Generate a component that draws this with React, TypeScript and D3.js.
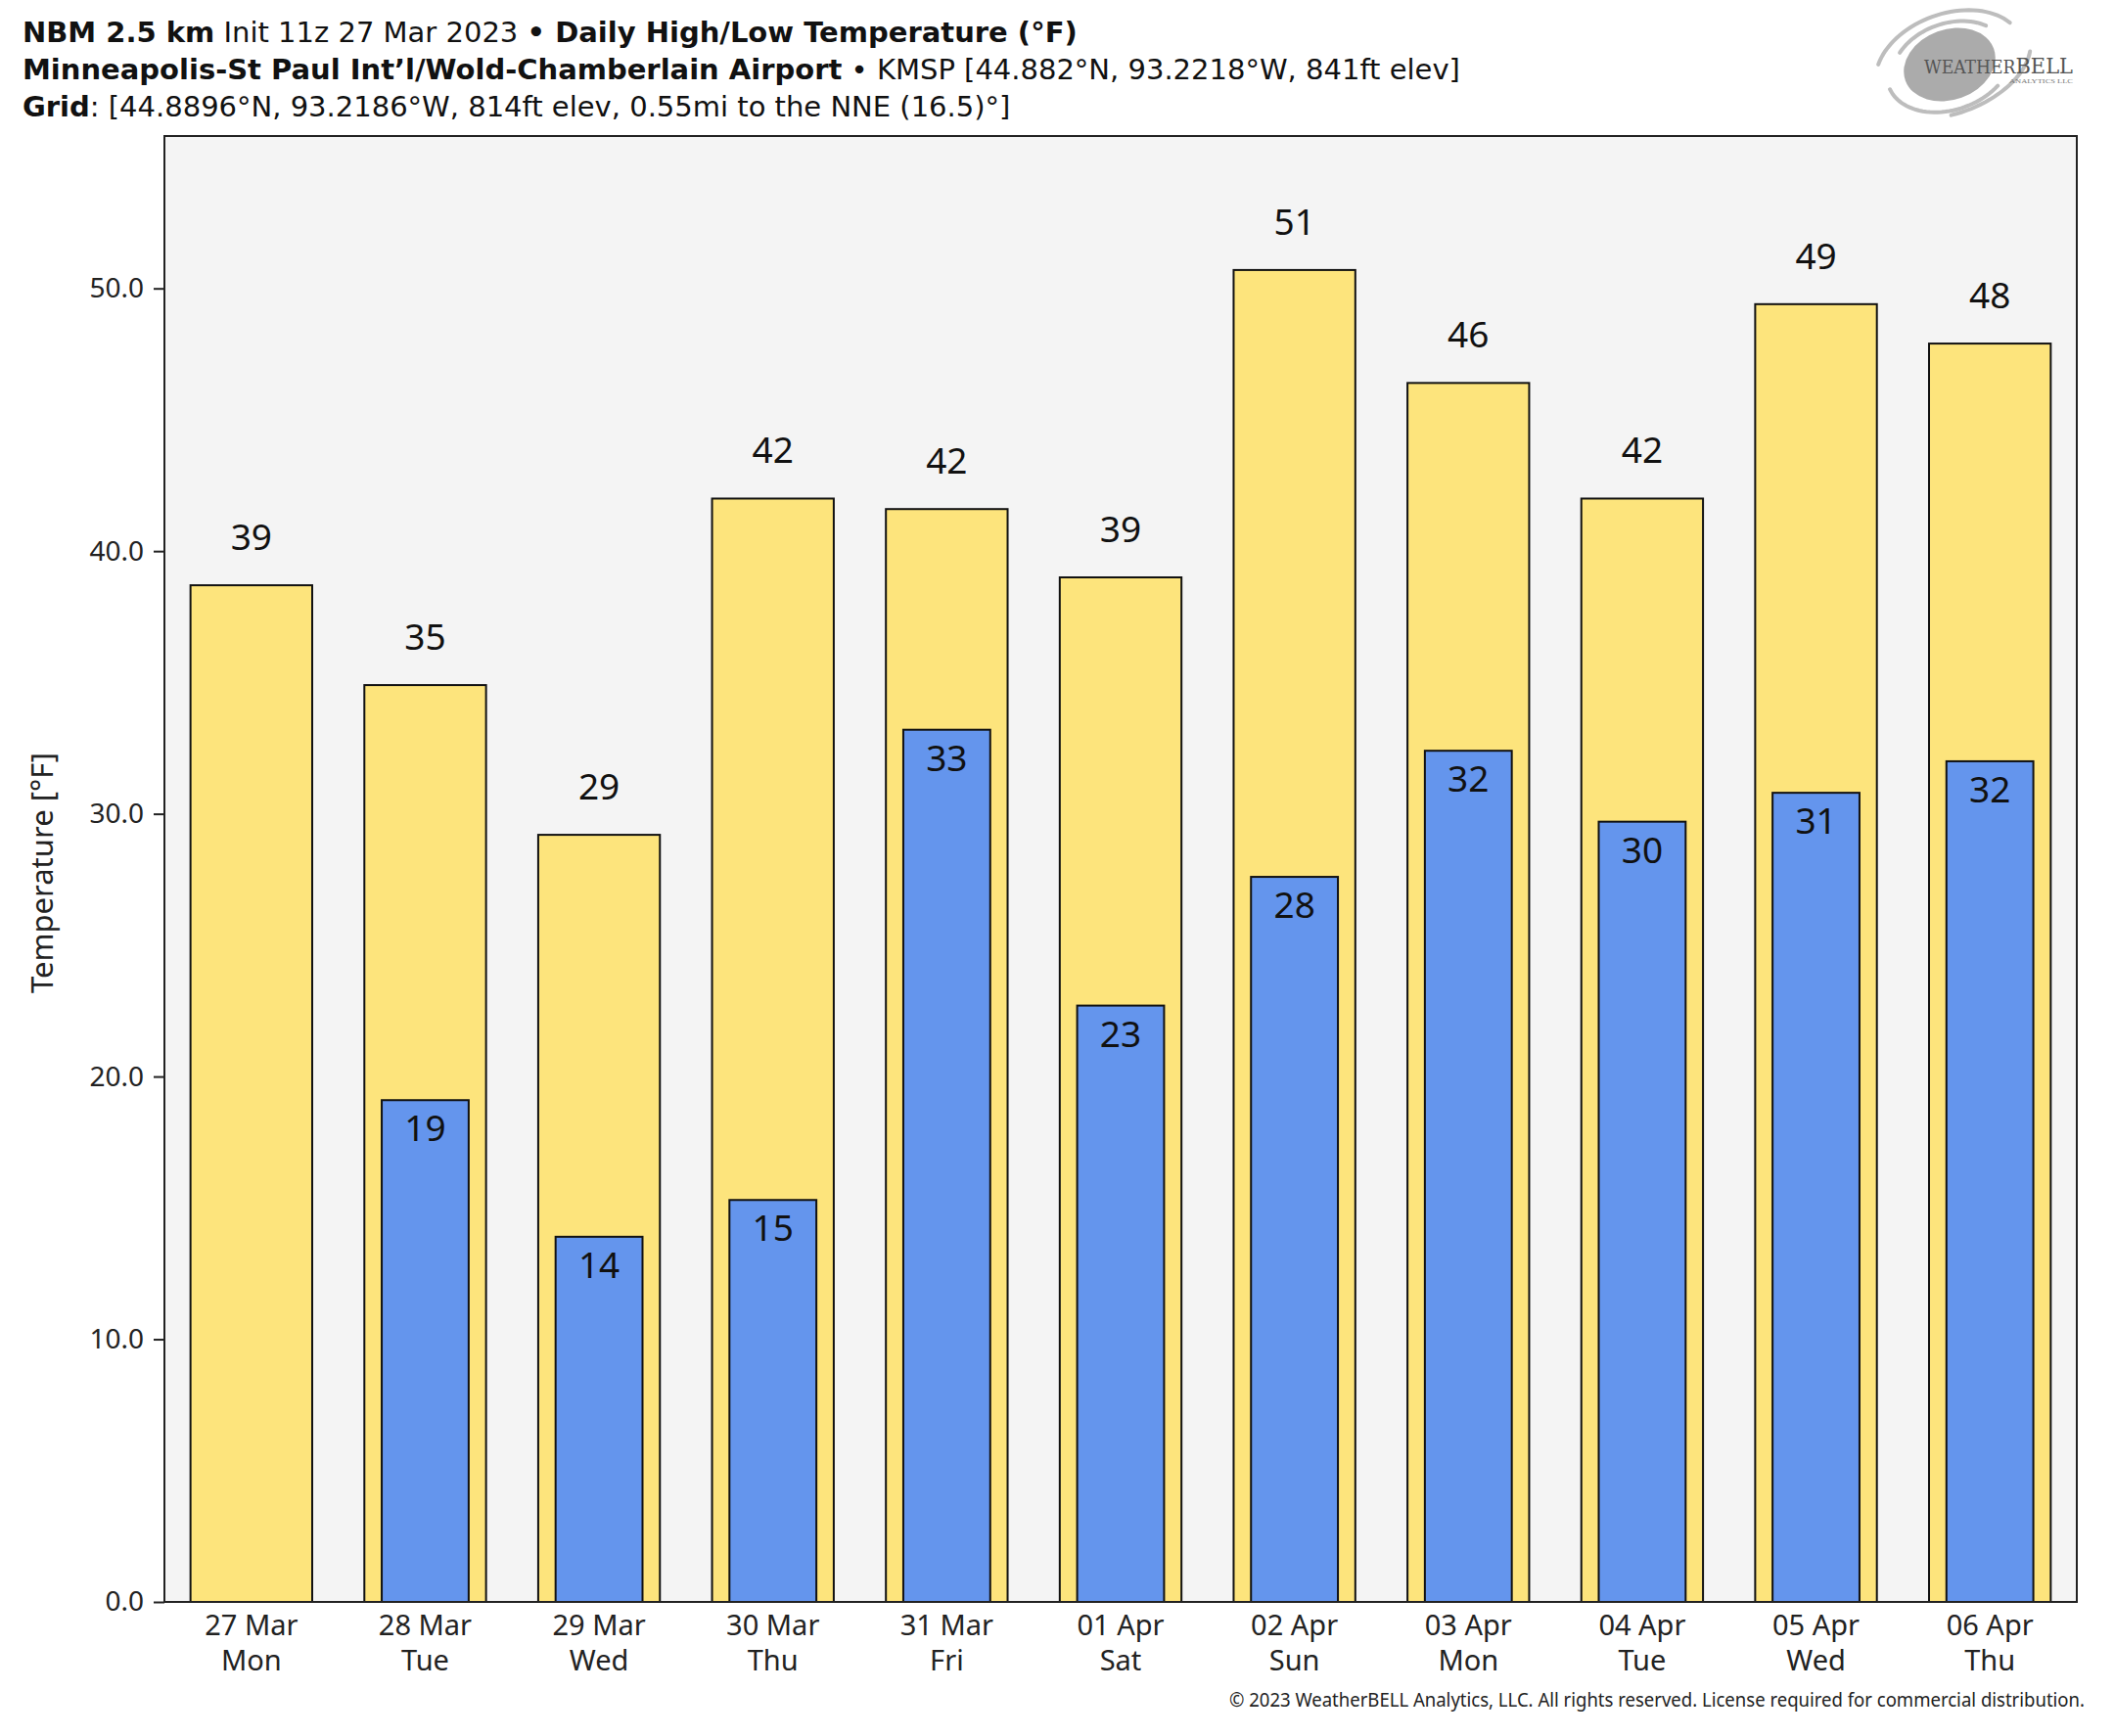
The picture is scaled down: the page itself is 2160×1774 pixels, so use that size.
import * as d3 from 'd3';
import React, { useEffect, useRef } from 'react';

const dates = ['27 Mar', '28 Mar', '29 Mar', '30 Mar', '31 Mar', '01 Apr', '02 Apr', '03 Apr', '04 Apr', '05 Apr', '06 Apr'];
const weekdays = ['Mon', 'Tue', 'Wed', 'Thu', 'Fri', 'Sat', 'Sun', 'Mon', 'Tue', 'Wed', 'Thu'];
const highs = [38.7, 34.9, 29.2, 42.0, 41.6, 39.0, 50.7, 46.4, 42.0, 49.4, 47.9];
const lows: (number | null)[] = [null, 19.1, 13.9, 15.3, 33.2, 22.7, 27.6, 32.4, 29.7, 30.8, 32.0];
const yTicks = [0, 10, 20, 30, 40, 50];

const W = 2160;
const H = 1774;
const plot = { left: 168, top: 139, right: 2122, bottom: 1637 };
const font = '"Noto Sans", "Open Sans", sans-serif';
const titleFont = '"DejaVu Sans", "Noto Sans", sans-serif';

export default function App() {
    const ref = useRef<SVGSVGElement>(null);

    useEffect(() => {
        const svg = d3.select(ref.current);
        svg.selectAll('*').remove();

        const x = d3.scaleBand().domain(dates).range([plot.left, plot.right]).padding(0);
        const y = d3.scaleLinear().domain([0, 55.8]).range([plot.bottom, plot.top]);
        const bw = x.bandwidth();
        const cx = (i: number) => x(dates[i])! + bw / 2;

        svg.append('rect')
            .attr('width', W)
            .attr('height', H)
            .attr('fill', '#ffffff');

        // plot background
        svg.append('rect')
            .attr('x', plot.left)
            .attr('y', plot.top)
            .attr('width', plot.right - plot.left)
            .attr('height', plot.bottom - plot.top)
            .attr('fill', '#f4f4f4');

        const g = svg.append('g');

        // high bars
        g.selectAll('.high')
            .data(highs)
            .join('rect')
            .classed('high', true)
            .attr('x', (d, i) => cx(i) - bw * 0.35)
            .attr('width', bw * 0.7)
            .attr('y', (d) => y(d))
            .attr('height', (d) => y(0) - y(d))
            .attr('fill', '#fde47c')
            .attr('stroke', '#111')
            .attr('stroke-width', 2);

        const lowData = lows.map((v, i) => ({ v, i })).filter((d) => d.v !== null) as { v: number; i: number }[];

        g.selectAll('.low')
            .data(lowData)
            .join('rect')
            .classed('low', true)
            .attr('x', (d) => cx(d.i) - bw * 0.25)
            .attr('width', bw * 0.5)
            .attr('y', (d) => y(d.v))
            .attr('height', (d) => y(0) - y(d.v))
            .attr('fill', '#6495ed')
            .attr('stroke', '#111')
            .attr('stroke-width', 2);

        g.selectAll('.high-label')
            .data(highs)
            .join('text')
            .classed('high-label', true)
            .attr('x', (d, i) => cx(i))
            .attr('y', (d) => y(d) - 36)
            .attr('text-anchor', 'middle')
            .attr('font-family', font)
            .attr('font-size', 37)
            .attr('fill', '#111')
            .text((d) => Math.round(d));

        g.selectAll('.low-label')
            .data(lowData)
            .join('text')
            .classed('low-label', true)
            .attr('x', (d) => cx(d.i))
            .attr('y', (d) => y(d.v) + 42)
            .attr('text-anchor', 'middle')
            .attr('font-family', font)
            .attr('font-size', 37)
            .attr('fill', '#111')
            .text((d) => Math.round(d.v));

        // frame
        svg.append('rect')
            .attr('x', plot.left)
            .attr('y', plot.top)
            .attr('width', plot.right - plot.left)
            .attr('height', plot.bottom - plot.top)
            .attr('fill', 'none')
            .attr('stroke', '#222')
            .attr('stroke-width', 2);

        // y axis
        const yAxis = d3
            .axisLeft(y)
            .tickValues(yTicks)
            .tickSize(11)
            .tickPadding(10)
            .tickFormat((d) => d3.format('.1f')(d as number));
        const ya = svg.append('g').attr('transform', `translate(${plot.left},0)`).call(yAxis);
        ya.select('.domain').remove();
        ya.selectAll('line').attr('stroke', '#222').attr('stroke-width', 2);
        ya.selectAll('text')
            .attr('font-family', font)
            .attr('font-size', 28)
            .attr('fill', '#222');

        // x axis
        const xAxis = d3.axisBottom(x).tickSize(0).tickFormat(() => '');
        const xa = svg.append('g').attr('transform', `translate(0,${plot.bottom})`).call(xAxis);
        xa.select('.domain').remove();
        xa.selectAll('.tick').each(function (d, i) {
            const t = d3
                .select(this)
                .append('text')
                .attr('text-anchor', 'middle')
                .attr('font-family', font)
                .attr('font-size', 29)
                .attr('fill', '#222');
            t.append('tspan').attr('x', 0).attr('y', 34).text(dates[i]);
            t.append('tspan').attr('x', 0).attr('y', 70).text(weekdays[i]);
        });

        svg.append('text')
            .attr('transform', `translate(54,${(plot.top + plot.bottom) / 2 + 4}) rotate(-90)`)
            .attr('text-anchor', 'middle')
            .attr('font-family', font)
            .attr('font-size', 31)
            .attr('fill', '#222')
            .text('Temperature [°F]');

        // title
        const titleLines = [
            [
                { t: 'NBM 2.5 km', b: true },
                { t: ' Init 11z 27 Mar 2023 ', b: false },
                { t: '• Daily High/Low Temperature (°F)', b: true },
            ],
            [
                { t: 'Minneapolis-St Paul Int’l/Wold-Chamberlain Airport', b: true },
                { t: ' • KMSP [44.882°N, 93.2218°W, 841ft elev]', b: false },
            ],
            [
                { t: 'Grid', b: true },
                { t: ': [44.8896°N, 93.2186°W, 814ft elev, 0.55mi to the NNE (16.5)°]', b: false },
            ],
        ];
        titleLines.forEach((parts, li) => {
            const t = svg
                .append('text')
                .attr('x', 23)
                .attr('y', 43 + li * 38)
                .attr('font-family', titleFont)
                .attr('font-size', 29)
                .attr('fill', '#111')
                .attr('xml:space', 'preserve');
            parts.forEach((p) => {
                t.append('tspan').attr('font-weight', p.b ? 700 : 400).text(p.t);
            });
        });

        // footer, squeezed horizontally to the reference's narrow look
        const foot = svg.append('g');
        const ft = foot
            .append('text')
            .attr('x', 0)
            .attr('y', 0)
            .attr('text-anchor', 'end')
            .attr('font-family', font)
            .attr('font-size', 20)
            .attr('fill', '#222')
            .text('© 2023 WeatherBELL Analytics, LLC. All rights reserved. License required for commercial distribution.');
        const len = (ft.node() as SVGTextElement).getComputedTextLength() || 875;
        foot.attr('transform', `translate(2130,1744) scale(${875 / len},1)`);

        // logo
        const logo = svg.append('g').attr('transform', 'translate(1992,66) rotate(-20)');
        logo.append('ellipse').attr('rx', 48).attr('ry', 36).attr('fill', '#ababab');
        [
            [66, 46, 0.15, 0.5],
            [78, 52, 0.58, 0.95],
            [60, 42, 0.62, 0.9],
            [86, 50, 0.05, 0.28],
        ].forEach(([rx, ry, a0, a1]) => {
            const pts = d3.range(a0, a1, 0.01).map((a) => [Math.cos(a * 2 * Math.PI) * rx, Math.sin(a * 2 * Math.PI) * ry] as [number, number]);
            logo.append('path')
                .attr('d', d3.line()(pts))
                .attr('fill', 'none')
                .attr('stroke', '#bdbdbd')
                .attr('stroke-width', 4)
                .attr('stroke-linecap', 'round');
        });
        const lt = svg
            .append('text')
            .attr('x', 1966)
            .attr('y', 75)
            .attr('font-family', '"DejaVu Serif", "Liberation Serif", serif')
            .attr('fill', '#555')
            .attr('textLength', 152)
            .attr('lengthAdjust', 'spacingAndGlyphs');
        lt.append('tspan').attr('font-size', 18).text('WEATHER');
        lt.append('tspan').attr('font-size', 22).text('BELL');
        svg.append('text')
            .attr('x', 2053)
            .attr('y', 85)
            .attr('font-family', '"Liberation Serif", serif')
            .attr('font-size', 7)
            .attr('fill', '#777')
            .attr('textLength', 65)
            .attr('lengthAdjust', 'spacingAndGlyphs')
            .text('ANALYTICS LLC');
    }, []);

    return (
        <div>
            <svg ref={ref} width={W} height={H} style={{ position: 'absolute', left: 0, top: 0 }}></svg>
        </div>
    );
}
